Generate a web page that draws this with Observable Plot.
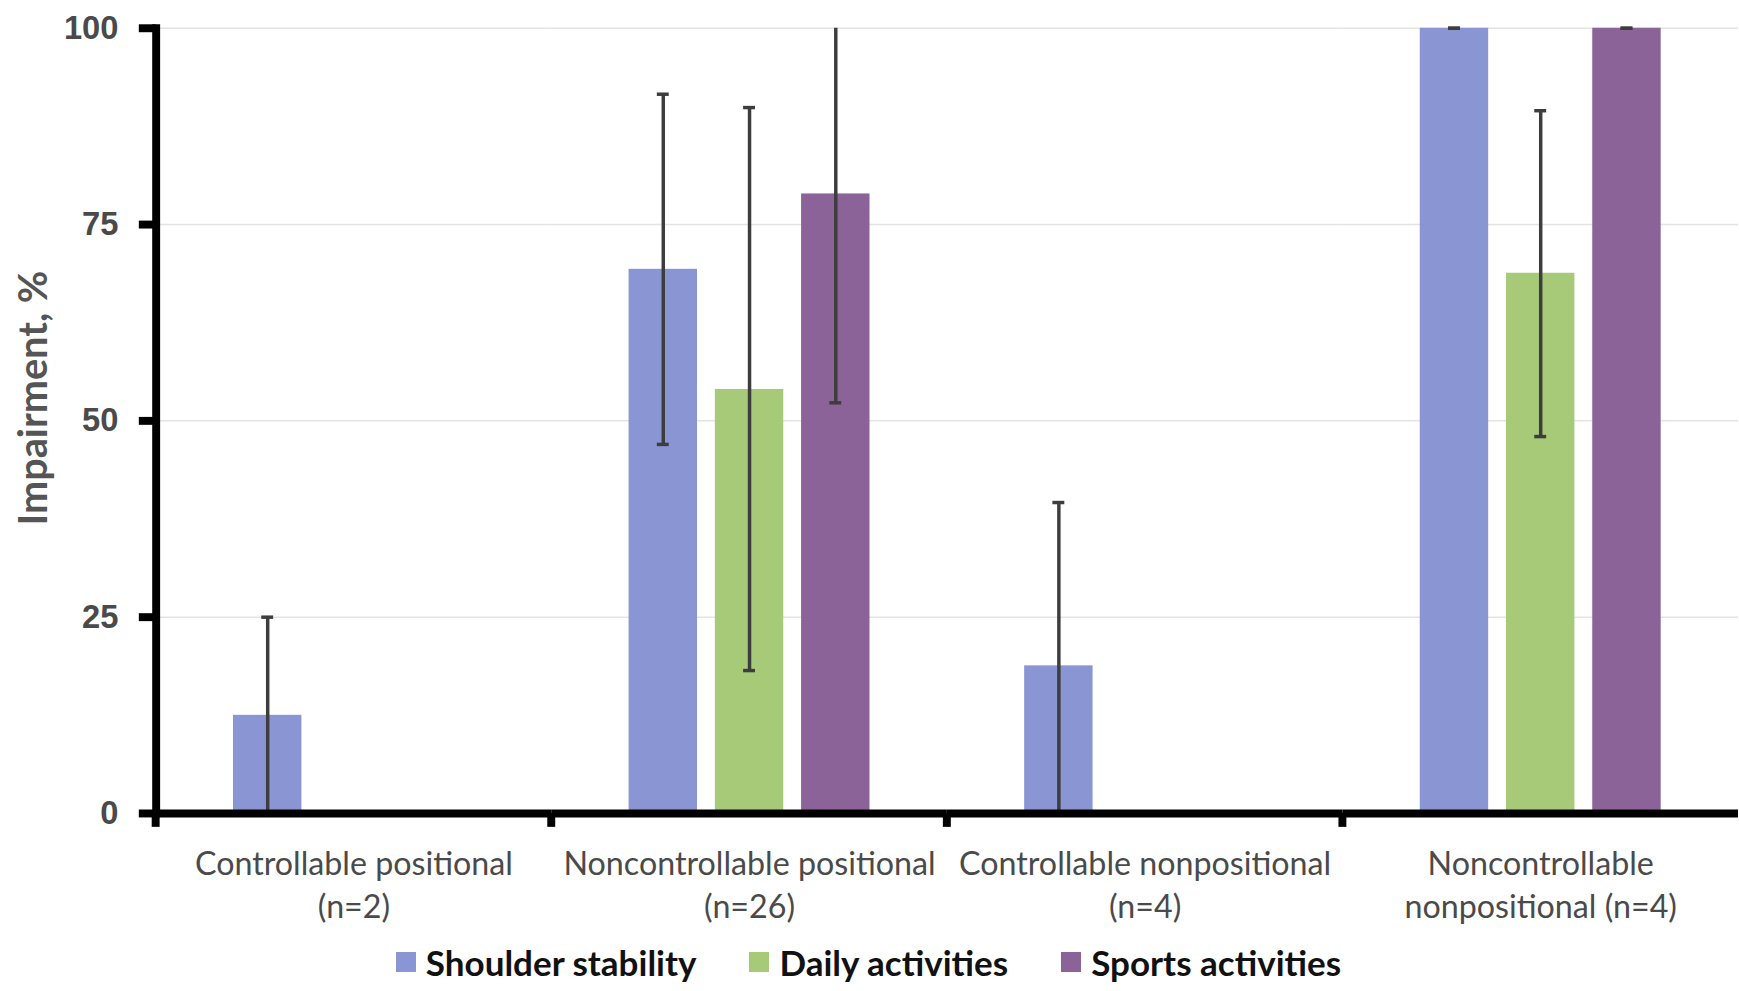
<!DOCTYPE html>
<html><head><meta charset="utf-8">
<script src="https://cdn.jsdelivr.net/npm/d3@7"></script>
<script src="https://cdn.jsdelivr.net/npm/@observablehq/plot@0.6"></script>
<style>
html,body{margin:0;padding:0;background:#fff;overflow:hidden;width:1739px;height:991px}
#chart svg{display:block}
#legend{display:flex;justify-content:center;align-items:center;height:40px;margin-top:5px;margin-left:-2px;font-family:Lato,sans-serif;font-weight:700;font-size:35px;color:#111;white-space:nowrap}
.item{display:flex;align-items:center;margin:0 26.5px}
.sw{width:20px;height:20px;margin-right:10px}
</style></head><body><div id="chart"></div><div id="legend"></div>
<script>
const categories = ["Controllable positional\n(n=2)", "Noncontrollable positional\n(n=26)", "Controllable nonpositional\n(n=4)", "Noncontrollable\nnonpositional (n=4)"];
const series = ["Shoulder stability", "Daily activities", "Sports activities"];
const shoulderMean = [12.5, 69.3, 18.8, 100];
const shoulderLow  = [0, 47.0, -2.0, 100];
const shoulderHigh = [25.0, 91.6, 39.6, 100];
const dailyMean = [null, 54.0, null, 68.8];
const dailyLow  = [null, 18.2, null, 48.0];
const dailyHigh = [null, 89.9, null, 89.5];
const sportsMean = [null, 78.9, null, 100];
const sportsLow  = [null, 52.3, null, 100];
const sportsHigh = [null, 105.5, null, 100];
const colors = ["#8a95d3", "#a6ca78", "#8b6399"];
const yTicks = [0, 25, 50, 75, 100];

const means = [shoulderMean, dailyMean, sportsMean];
const lows = [shoulderLow, dailyLow, sportsLow];
const highs = [shoulderHigh, dailyHigh, sportsHigh];
const rows = [];
series.forEach((s, j) => categories.forEach((c, i) => {
  if (means[j][i] != null) rows.push({category: c, series: s, mean: means[j][i], low: lows[j][i], high: highs[j][i]});
}));
const caps = rows.flatMap(d => [{category: d.category, series: d.series, v: d.low}, {category: d.category, series: d.series, v: d.high}])
  .filter(d => d.v >= 0 && d.v <= 100);

function boundaryTick(index, scales, values, dimensions) {
  const y0 = dimensions.height - dimensions.marginBottom;
  return d3.create("svg:line")
    .attr("x1", dimensions.marginLeft).attr("x2", dimensions.marginLeft)
    .attr("y1", y0).attr("y2", y0 + 14)
    .attr("stroke", "black").attr("stroke-width", 8).node();
}

const chart = Plot.plot({
  width: 1754, height: 945,
  marginLeft: 156, marginRight: 0, marginTop: 28, marginBottom: 125,
  style: {background: "#fff", overflow: "visible"},
  fx: {domain: categories, padding: 0, label: null},
  x: {domain: series, paddingInner: 0.206, paddingOuter: 0.873, axis: null},
  y: {domain: [0, 100], axis: null},
  color: {domain: series, range: colors},
  marks: [
    Plot.ruleY(yTicks.filter(t => t > 0), {stroke: "#e3e3e3", strokeWidth: 1.5}),
    Plot.barY(rows, {fx: "category", x: "series", y: "mean", fill: "series"}),
    Plot.ruleX(rows, {fx: "category", x: "series", y1: "low", y2: "high", stroke: "#3d3d3d", strokeWidth: 3.5, clip: true}),
    Plot.tickY(caps, {fx: "category", x: "series", y: "v", stroke: "#3d3d3d", strokeWidth: 3.5, insetLeft: 28.5, insetRight: 28.5}),
    Plot.ruleY([0], {stroke: "black", strokeWidth: 8}),
    boundaryTick,
    Plot.frame({anchor: "left", facetAnchor: "left", stroke: "black", strokeWidth: 8}),
    Plot.axisY({ticks: yTicks, tickSize: 17, stroke: "black", strokeWidth: 8, tickPadding: 21, fontSize: 33, fontWeight: "bold", fill: "#4a4a4a", fontFamily: "Liberation Sans, Arial, sans-serif", label: null}),
    Plot.text(["Impairment, %"], {frameAnchor: "left", facetAnchor: "left", textAnchor: "middle", rotate: -90, dx: -123, dy: -23, fontSize: 40, fontWeight: 700, fill: "#555", fontFamily: "Lato, sans-serif"}),
    Plot.axisFx({anchor: "bottom", tickSize: 0, tickPadding: 32, fontSize: 32.5, lineHeight: 1.32, fill: "#4a4a4a", fontFamily: "Lato, sans-serif", label: null})
  ]
});
document.getElementById("chart").appendChild(chart);

const legend = document.getElementById("legend");
series.forEach((s, j) => {
  const it = document.createElement("div"); it.className = "item";
  const sw = document.createElement("div"); sw.className = "sw"; sw.style.background = colors[j];
  const tx = document.createElement("span"); tx.textContent = s;
  it.appendChild(sw); it.appendChild(tx); legend.appendChild(it);
});
</script></body></html>
